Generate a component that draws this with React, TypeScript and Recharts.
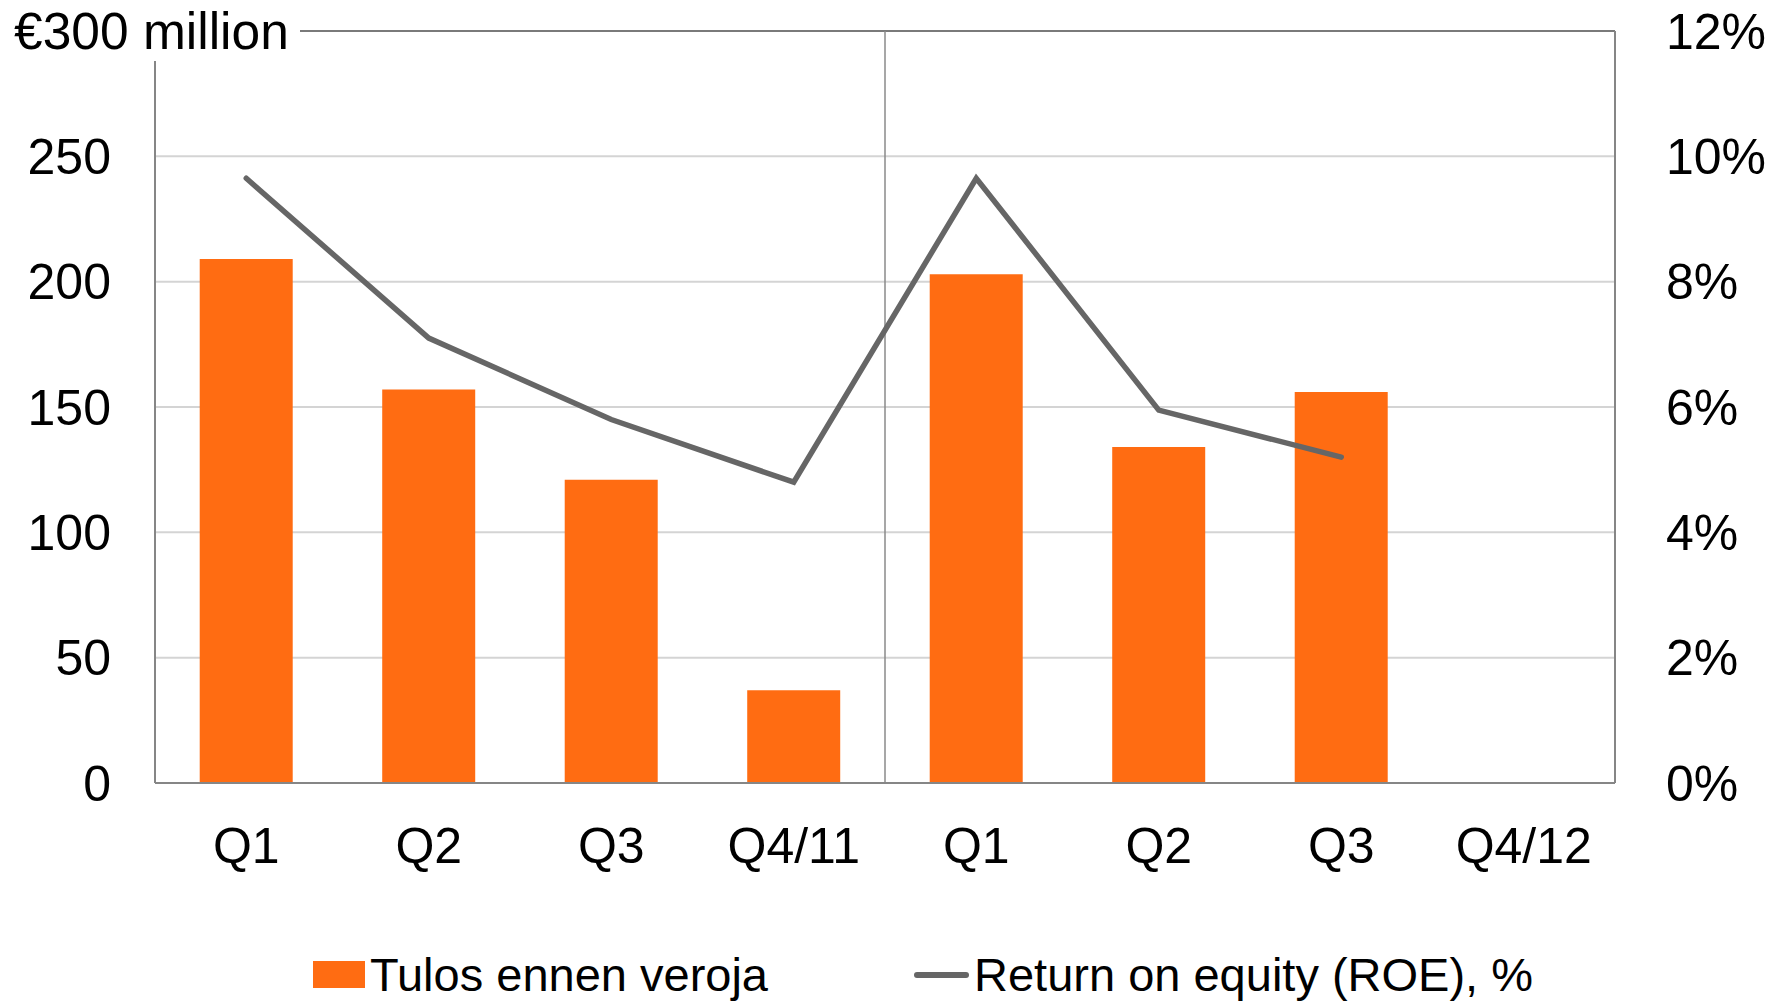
import * as React from "react";
import {
  ComposedChart,
  Bar,
  Line,
  XAxis,
  YAxis,
  CartesianGrid,
  ReferenceLine,
  Legend,
} from "recharts";

const quarters = ["Q1/11", "Q2/11", "Q3/11", "Q4/11", "Q1/12", "Q2/12", "Q3/12", "Q4/12"];
const quarterLabels = ["Q1", "Q2", "Q3", "Q4/11", "Q1", "Q2", "Q3", "Q4/12"];
const profitBeforeTax = [209, 157, 121, 37, 203, 134, 156, null];
const roePercent = [9.65, 7.1, 5.8, 4.8, 9.65, 5.95, 5.2, null];
const leftTicks = [0, 50, 100, 150, 200, 250, 300];
const rightTicks = [0, 2, 4, 6, 8, 10, 12];

const chartData = quarters.map((q, i) => ({
  quarter: q,
  profit: profitBeforeTax[i],
  roe: roePercent[i],
}));

const FONT = "'Liberation Sans', Arial, sans-serif";
const ORANGE = "#FF6C12";
const LINE_GREY = "#666666";
const AXIS_GREY = "#868686";

const LeftTick = (props: any) => {
  const { x, y, payload } = props;
  if (payload.value === 300) {
    // unit label on top row, with a white patch hiding the frame behind it
    return (
      <g>
        <rect x={0} y={0} width={300} height={y + 30} fill="#ffffff" />
        <text x={14} y={y} dy="0.355em" fontSize={51.5} fontFamily={FONT} fill="#000">
          €300 million
        </text>
      </g>
    );
  }
  return (
    <text x={x} y={y} dy="0.355em" textAnchor="end" fontSize={50} fontFamily={FONT} fill="#000">
      {payload.value}
    </text>
  );
};

const LegendContent = (props: any) => {
  // bars first, then the line, as in the original
  const items = [...(props.payload || [])].sort(
    (a: any, b: any) => (a.type === "line" ? 1 : 0) - (b.type === "line" ? 1 : 0)
  );
  return (
    <div
      style={{
        display: "flex",
        alignItems: "center",
        height: 47,
        fontFamily: FONT,
        fontSize: 47,
        lineHeight: "47px",
        color: "#000",
      }}
    >
      {items.map((entry: any, i: number) => (
        <div
          key={i}
          style={{ display: "flex", alignItems: "center", marginLeft: i === 0 ? 313 : 146 }}
        >
          {entry.type === "line" ? (
            <span style={{ display: "inline-block", width: 55, height: 6, borderRadius: 3, background: entry.color }} />
          ) : (
            <span style={{ display: "inline-block", width: 52, height: 27, background: entry.color }} />
          )}
          <span style={{ marginLeft: 5, whiteSpace: "nowrap" }}>{entry.value}</span>
        </div>
      ))}
    </div>
  );
};

export default function App() {
  return (
    <div style={{ position: "absolute", left: 0, top: 0, background: "#fff" }}>
      <ComposedChart
        width={1787}
        height={1002}
        data={chartData}
        margin={{ top: 31, right: 0, bottom: 0, left: 0 }}
        barCategoryGap="24.5%"
      >
        <CartesianGrid yAxisId="left" vertical={false} stroke="#d4d4d4" strokeWidth={2} />
        <ReferenceLine yAxisId="left" y={300} stroke="#7a7a7a" strokeWidth={2} />
        <ReferenceLine yAxisId="left" x="Q4/11" position="end" stroke="#8a8a8a" strokeWidth={1.5} />
        <XAxis
          dataKey="quarter"
          height={219}
          tickFormatter={(v: any, i: number) => quarterLabels[i]}
          axisLine={{ stroke: AXIS_GREY, strokeWidth: 2 }}
          tickLine={false}
          tickSize={0}
          tickMargin={44}
          tick={{ fontSize: 50, fontFamily: FONT, fill: "#000" }}
          interval={0}
        />
        <YAxis
          yAxisId="left"
          orientation="left"
          width={155}
          domain={[0, 300]}
          ticks={leftTicks}
          interval={0}
          axisLine={{ stroke: AXIS_GREY, strokeWidth: 2 }}
          tickLine={false}
          tickSize={0}
          tickMargin={44}
          tick={<LeftTick />}
        />
        <YAxis
          yAxisId="right"
          orientation="right"
          width={172}
          domain={[0, 12]}
          ticks={rightTicks}
          interval={0}
          tickFormatter={(v: number) => `${v}%`}
          axisLine={{ stroke: AXIS_GREY, strokeWidth: 2 }}
          tickLine={false}
          tickSize={0}
          tickMargin={51}
          tick={{ fontSize: 50, fontFamily: FONT, fill: "#000", textAnchor: "start" }}
        />
        <Bar
          yAxisId="left"
          dataKey="profit"
          name="Tulos ennen veroja"
          fill={ORANGE}
          legendType="rect"
          isAnimationActive={false}
        />
        <Line
          yAxisId="right"
          dataKey="roe"
          name="Return on equity (ROE), %"
          type="linear"
          stroke={LINE_GREY}
          strokeWidth={5.5}
          strokeLinecap="round"
          dot={false}
          activeDot={false}
          legendType="line"
          isAnimationActive={false}
        />
        <Legend
          layout="horizontal"
          verticalAlign="middle"
          align="center"
          content={<LegendContent />}
          wrapperStyle={{ position: "absolute", left: 0, top: 951, width: 1787, height: 47 }}
        />
      </ComposedChart>
    </div>
  );
}
